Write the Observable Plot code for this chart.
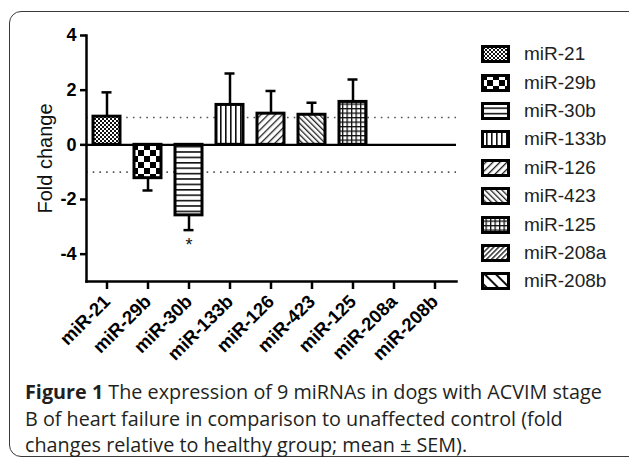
<!DOCTYPE html>
<html>
<head>
<meta charset="utf-8">
<script src="https://cdn.jsdelivr.net/npm/d3@7"></script>
<script src="https://cdn.jsdelivr.net/npm/@observablehq/plot@0.6"></script>
<style>
  html, body { margin: 0; padding: 0; background: #fff; }
  body { width: 629px; height: 461px; overflow: hidden; position: relative; font-family: "Liberation Sans", Arial, sans-serif; }
  #frame { position: absolute; left: 9px; top: 11px; width: 660px; height: 446px; border: 1.5px solid #3a3a3a; border-radius: 12px; box-sizing: border-box; }
  #chart { position: absolute; left: 0; top: 0; }
  #legend { position: absolute; left: 481px; top: 40px; }
  .row { display: flex; align-items: center; height: 28.4px; }
  .row svg { display: block; }
  .row span { margin-left: 14px; font-size: 19px; color: #222; font-family: "Liberation Sans", Arial, sans-serif; }
  #caption { position: absolute; left: 25px; top: 379px; font-family: "Open Sans", sans-serif; font-size: 19.8px; line-height: 26.5px; color: #231f20; white-space: nowrap; }
  #caption b { font-weight: 700; }
</style>
</head>
<body>
<div id="frame"></div>
<div id="chart"></div>
<div id="legend"></div>
<div id="caption"><b>Figure 1</b> The expression of 9 miRNAs in dogs with ACVIM stage<br>B of heart failure in comparison to unaffected control (fold<br>changes relative to healthy group; mean ± SEM).</div>
<script>
// ---- data ----
const names = ["miR-21","miR-29b","miR-30b","miR-133b","miR-126","miR-423","miR-125","miR-208a","miR-208b"];
const means = [1.03, -1.22, -2.58, 1.46, 1.14, 1.10, 1.57, null, null];
const errEnds = [1.92, -1.67, -3.12, 2.61, 1.97, 1.54, 2.39, null, null];
const significant = ["miR-30b"];
const refLines = [1, -1];
const yTicks = [4, 2, 0, -2, -4];
const yDomain = [-5, 4];

// ---- patterns ----
const patternDefs = `
<pattern id="pat0" patternUnits="userSpaceOnUse" width="4" height="4">
  <rect width="4" height="4" fill="#fff"/><rect width="2" height="2" fill="#111"/><rect x="2" y="2" width="2" height="2" fill="#111"/>
</pattern>
<pattern id="pat1" patternUnits="userSpaceOnUse" width="12" height="12">
  <rect width="12" height="12" fill="#fff"/><rect width="6" height="6" fill="#000"/><rect x="6" y="6" width="6" height="6" fill="#000"/>
</pattern>
<pattern id="pat2" patternUnits="userSpaceOnUse" width="6" height="5.4">
  <rect width="6" height="5.4" fill="#fff"/><rect y="0" width="6" height="1.6" fill="#111"/>
</pattern>
<pattern id="pat3" patternUnits="userSpaceOnUse" width="5" height="6">
  <rect width="5" height="6" fill="#fff"/><rect x="0" width="1.6" height="6" fill="#111"/>
</pattern>
<pattern id="pat4" patternUnits="userSpaceOnUse" width="5" height="5" patternTransform="rotate(45)">
  <rect width="5" height="5" fill="#fff"/><rect width="1.3" height="5" fill="#222"/>
</pattern>
<pattern id="pat5" patternUnits="userSpaceOnUse" width="4" height="4" patternTransform="rotate(-45)">
  <rect width="4" height="4" fill="#fff"/><rect width="1.3" height="4" fill="#222"/>
</pattern>
<pattern id="pat6" patternUnits="userSpaceOnUse" width="4.5" height="4.5">
  <rect width="4.5" height="4.5" fill="#fff"/><rect width="4.5" height="1.3" fill="#111"/><rect width="1.3" height="4.5" fill="#111"/>
</pattern>
<pattern id="pat7" patternUnits="userSpaceOnUse" width="3.5" height="3.5" patternTransform="rotate(45)">
  <rect width="3.5" height="3.5" fill="#fff"/><rect width="1.4" height="3.5" fill="#222"/>
</pattern>
<pattern id="pat8" patternUnits="userSpaceOnUse" width="8" height="8" patternTransform="rotate(-45)">
  <rect width="8" height="8" fill="#fff"/><rect width="2" height="8" fill="#111"/>
</pattern>`;

const data = names.map((name, i) => ({name, mean: means[i], errEnd: errEnds[i], pat: `url(#pat${i})`}))
  .filter(d => d.mean != null);
const sigData = data.filter(d => significant.includes(d.name));

const fontFamily = "'Liberation Sans', Arial, sans-serif";

const plot = Plot.plot({
  width: 470,
  height: 365,
  marginLeft: 86,
  marginRight: 14,
  marginTop: 35,
  marginBottom: 84,
  style: {fontFamily, color: "#000", background: "transparent", overflow: "visible"},
  x: {domain: names, paddingInner: 0.34, paddingOuter: 0.18},
  y: {domain: yDomain},
  color: {type: "identity"},
  marks: [
    Plot.ruleY(refLines, {stroke: "#555", strokeWidth: 1.6, strokeDasharray: "1.6 5.1"}),
    Plot.ruleX(data, {x: "name", y1: "mean", y2: "errEnd", stroke: "#000", strokeWidth: 2.5}),
    Plot.tickY(data, {x: "name", y: "errEnd", stroke: "#000", strokeWidth: 2.5, insetLeft: 8.5, insetRight: 8.5}),
    Plot.barY(data, {x: "name", y: "mean", fill: "pat", stroke: "#000", strokeWidth: 3}),
    Plot.ruleY([0], {stroke: "#000", strokeWidth: 2.2}),
    Plot.text(sigData, {x: "name", y: "errEnd", text: () => "*", dy: 15, fontSize: 18, fill: "#111"}),
    Plot.frame({anchor: "left", stroke: "#000", strokeWidth: 2.5}),
    Plot.frame({anchor: "bottom", stroke: "#000", strokeWidth: 2.5}),
    Plot.axisY({ticks: yTicks, tickFormat: d => String(d), tickSize: 6, tickPadding: 4, strokeWidth: 2.5, fontSize: 18, fontWeight: "bold", label: null}),
    Plot.axisX({tickSize: 8, tickPadding: 9, tickRotate: -45, strokeWidth: 2.5, fontSize: 18.5, fontWeight: "bold", label: null}),
    Plot.text(["Fold change"], {frameAnchor: "left", textAnchor: "middle", dx: -41, rotate: -90, fontSize: 20, fill: "#111", text: d => d})
  ]
});
plot.insertAdjacentHTML("afterbegin", `<defs>${patternDefs}</defs>`);
document.getElementById("chart").appendChild(plot);

// ---- legend ----
const legend = document.getElementById("legend");
names.forEach((name, i) => {
  const row = document.createElement("div");
  row.className = "row";
  row.innerHTML = `<svg width="29" height="18"><rect x="1.5" y="1.5" width="26" height="15" fill="url(#pat${i})" stroke="#000" stroke-width="3"/></svg><span>${name}</span>`;
  legend.appendChild(row);
});
</script>
</body>
</html>
